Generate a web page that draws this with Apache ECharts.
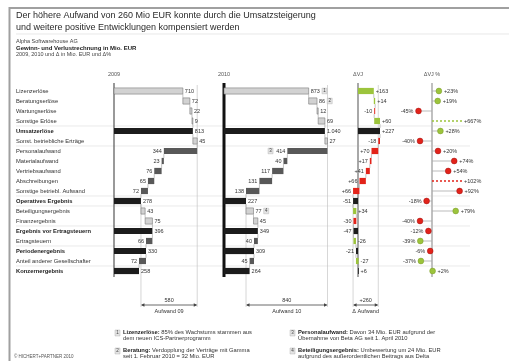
<!DOCTYPE html>
<html><head><meta charset="utf-8">
<script src="https://cdn.jsdelivr.net/npm/echarts@6/dist/echarts.min.js"></script>
<style>html,body{margin:0;padding:0;background:#fff}#c{width:509px;height:361px}</style>
</head><body><div id="c"></div><script>
// ---------- data ----------
const rowLabels = ['Lizenzerlöse','Beratungserlöse','Wartungserlöse','Sonstige Erlöse','Umsatzerlöse',
  'Sonst. betriebliche Erträge','Personalaufwand','Materialaufwand','Vertriebsaufwand','Abschreibungen',
  'Sonstige betriebl. Aufwand','Operatives Ergebnis','Beteiligungsergebnis','Finanzergebnis',
  'Ergebnis vor Ertragsteuern','Ertragsteuern','Periodenergebnis','Anteil anderer Gesellschafter','Konzernergebnis'];
const rowKind = ['+','+','+','+','=','+','-','-','-','-','-','=','+','+','=','-','=','-','='];
const values2009 = [710,72,22,9,813,45,344,23,76,65,72,278,43,75,396,66,330,72,258];
const values2010 = [873,86,12,69,1040,27,414,40,117,131,138,227,77,45,349,40,309,45,264];
const colHeaders = ['2009','2010','ΔVJ','ΔVJ %'];
const expenseCaptions = ['Aufwand 09','Aufwand 10','Δ Aufwand'];
const noteRows = [0,1,6,12];
const noteNums = ['1','2','3','4'];
const titleLines = ['Der höhere Aufwand von 260 Mio EUR konnte durch die Umsatzsteigerung',
  'und weitere positive Entwicklungen kompensiert werden'];
const subLines = ['Alpha Softwarehouse AG','Gewinn- und Verlustrechnung in Mio. EUR','2009, 2010 und Δ in Mio. EUR und Δ%'];
const footnotes = [
  ['1','Lizenzerlöse:',' 85% des Wachstums stammen aus','dem neuen ICS-Partnerprogramm'],
  ['2','Beratung:',' Verdopplung der Verträge mit Gamma','seit 1. Februar 2010 = 32 Mio. EUR'],
  ['3','Personalaufwand:',' Davon 34 Mio. EUR aufgrund der','Übernahme von Beta AG seit 1. April 2010'],
  ['4','Beteiligungsergebnis:',' Umbewertung um 24 Mio. EUR','aufgrund des außerordentlichen Beitrags aus Delta']
];
const copyright = '© HICHERT+PARTNER 2010';

// ---------- derived ----------
const deltas = values2010.map((v,i)=>v-values2009[i]);
const deltaPct = values2010.map((v,i)=>Math.round((v-values2009[i])/values2009[i]*100));
const FONT = 'Liberation Sans, Arial, sans-serif';
const GREEN = '#9cc43c', RED = '#e2231a';

function fmt(v){ return String(Math.abs(v)).replace(/\B(?=(\d{3})+(?!\d))/g,'.'); }
function sfmt(v){ return (v>0?'+':v<0?'-':'±')+fmt(v); }

function waterfall(vals){
  let run=0; const segs=[];
  vals.forEach((v,i)=>{
    let s,e;
    if(rowKind[i]==='='){ s=0; e=v; run=v; }
    else { const sg = rowKind[i]==='+'?1:-1; s=run; e=run+sg*v; run=e; }
    segs.push({i,s,e,conn:run,v});
  });
  return segs;
}
const segPY = waterfall(values2009), segAC = waterfall(values2010), segD = waterfall(deltas);

function absColor(sg){
  if(rowKind[sg.i]==='=') return {fill:'#1c1c1c'};
  if(rowKind[sg.i]==='+') return {fill:'#d2d2d2',stroke:'#777'};
  return {fill:'#585858'};
}
function deltaColor(sg){
  if(rowKind[sg.i]==='=') return {fill:'#1c1c1c'};
  return {fill: sg.e>=sg.s ? GREEN : RED};
}

function wfSeries(g, segs, colorFn, labelFn, notes){
  return {
    type:'custom', xAxisIndex:g, yAxisIndex:g, clip:false, silent:true,
    data: segs.map(s=>[s.s, s.i, s.e]), encode:{x:[0,2], y:1},
    renderItem:(params, api)=>{
      const k=params.dataIndex, sg=segs[k];
      const p0=api.coord([sg.s,sg.i]), p1=api.coord([sg.e,sg.i]);
      const h=api.size([0,1])[1]*0.62;
      const x0=Math.min(p0[0],p1[0]), x1=Math.max(p0[0],p1[0]);
      const c=colorFn(sg);
      const ch=[{type:'rect',shape:{x:x0,y:p0[1]-h/2,width:Math.max(x1-x0,0.8),height:h},
        style:{fill:c.fill,stroke:c.stroke||null,lineWidth:c.stroke?0.6:0}}];
      if(k<segs.length-1){
        const pc=api.coord([sg.conn,sg.i]), pn=api.coord([sg.conn,sg.i+1]);
        ch.push({type:'line',shape:{x1:pc[0],y1:pc[1]+h/2,x2:pn[0],y2:pn[1]-h/2},style:{stroke:'#999',lineWidth:0.6}});
      }
      const right = sg.e>=sg.s;
      const txt = labelFn(sg);
      const lx = right? x1+2 : x0-2;
      ch.push({type:'text',style:{text:txt,x:lx,y:p0[1],align:right?'left':'right',verticalAlign:'middle',
        fontSize:5.5,fill:'#333',fontFamily:FONT}});
      if(notes){
        const ni = noteRows.indexOf(sg.i);
        if(ni>=0){
          const w = txt.length*3.1;
          const nx = right? lx+w+2 : lx-w-8;
          ch.push({type:'rect',shape:{x:nx,y:p0[1]-2.8,width:5,height:5.6},style:{fill:'#e4e4e4',stroke:'#aaa',lineWidth:0.4}});
          ch.push({type:'text',style:{text:noteNums[ni],x:nx+2.5,y:p0[1],align:'center',verticalAlign:'middle',fontSize:4.5,fill:'#444',fontFamily:FONT}});
        }
      }
      return {type:'group',children:ch};
    }
  };
}

const CAP = 100;
const pctSeries = {
  type:'custom', xAxisIndex:3, yAxisIndex:3, clip:false, silent:true,
  data: deltaPct.map((p,i)=>[Math.min(p,CAP), i]), encode:{x:0,y:1},
  renderItem:(params, api)=>{
    const i=params.dataIndex, p=deltaPct[i];
    const good = rowKind[i]==='-' ? p<0 : p>=0;
    const col = good?GREEN:RED;
    const z=api.coord([0,i]), e=api.coord([Math.min(p,CAP),i]);
    const ch=[];
    const capped = p>CAP;
    ch.push({type:'line',shape:{x1:z[0],y1:z[1],x2:e[0],y2:e[1]},style:{stroke:capped?col:'#aaa',lineWidth:capped?1.6:0.8,lineDash:capped?[2,2]:null}});
    if(!capped) ch.push({type:'circle',shape:{cx:e[0],cy:e[1],r:2.9},style:{fill:col,stroke:good?'#7a9a2a':'#a01010',lineWidth:0.5}});
    const right = p>=0;
    ch.push({type:'text',style:{text:(p>0?'+':p<0?'-':'±')+Math.abs(p)+'%',x:right?e[0]+(capped?2:5):e[0]-5,y:e[1],
      align:right?'left':'right',verticalAlign:'middle',fontSize:5.5,fill:'#333',fontFamily:FONT}});
    return {type:'group',children:ch};
  }
};

// ---------- layout ----------
const K = 0.097, KP = 0.3;
const TOP = 86, H = 190;
const grids = [
  {left:114, top:TOP, width:1100*K, height:H},
  {left:224, top:TOP, width:1100*K, height:H},
  {left:358-100*K, top:TOP, width:400*K, height:H},
  {left:432-60*KP, top:TOP, width:170*KP, height:H}
];
const xr = [[0,1100],[0,1100],[-100,300],[-60,110]];

const chart = echarts.init(document.getElementById('c'));
chart.setOption({
  animation:false,
  grid: grids,
  xAxis: xr.map((r,g)=>({gridIndex:g,type:'value',min:r[0],max:r[1],show:false})),
  yAxis: grids.map((gr,g)=>({gridIndex:g,type:'category',data:rowLabels,inverse:true,
    axisLine:{show:false},axisTick:{show:false},splitLine:{show:false},
    axisLabel:{show:g===0,align:'left',margin:98,fontSize:5.8,color:'#333',fontFamily:FONT,
      formatter:(v,idx)=>rowKind[idx]==='='?'{b|'+v+'}':v,
      rich:{b:{fontWeight:'bold',fontSize:5.8,color:'#222',fontFamily:FONT}}}})),
  series:[
    wfSeries(0, segPY, absColor, sg=>fmt(sg.v), false),
    wfSeries(1, segAC, absColor, sg=>fmt(sg.v), true),
    wfSeries(2, segD, deltaColor, sg=>sfmt(sg.v), false),
    pctSeries
  ]
});

// ---------- annotations from scales ----------
const px = (g,v)=>chart.convertToPixel({xAxisIndex:g}, v);
const py = i=>chart.convertToPixel({yAxisIndex:0}, i);
const gr = [];
function txt(x,y,t,o){ gr.push(Object.assign({type:'text',silent:true,style:Object.assign({text:t,x,y,fontSize:6,fill:'#333',fontFamily:FONT,verticalAlign:'middle'},o||{})})); }
function line(x1,y1,x2,y2,stroke,w,dash){ gr.push({type:'line',silent:true,shape:{x1,y1,x2,y2},style:{stroke,lineWidth:w,lineDash:dash||null}}); }

// frame
gr.push({type:'rect',silent:true,shape:{x:9.5,y:8,width:560,height:400},style:{fill:null,stroke:'#a0a0a0',lineWidth:2}});
// title & subtitle
txt(16,16,titleLines[0],{fontSize:9,fill:'#2a2a2a'});
txt(16,27.5,titleLines[1],{fontSize:9,fill:'#2a2a2a'});
line(16,34,509,34,'#d8d8d8',0.6);
txt(16,41.5,subLines[0],{fontSize:5.5,fill:'#444'});
txt(16,48,subLines[1],{fontSize:6,fill:'#222',fontWeight:'bold'});
txt(16,54.5,subLines[2],{fontSize:5.5,fill:'#444'});

// row separators
const sepAfter = [3,5,10,11,13,15,17];
sepAfter.forEach(i=>{ const y=(py(i)+py(i+1))/2; line(16,y,470,y,'#dcdcdc',0.6); });

// axis lines & headers
const axisStyle = [['#555',1.2],['#111',3],['#a8a8a8',2],['#c0c0c0',2]];
const yTop = py(0)-8, yBot = py(rowLabels.length-1)+6;
for(let g=0; g<4; g++){
  const x = px(g,0);
  line(x,yTop,x,yBot,axisStyle[g][0],axisStyle[g][1]);
  txt(x,74,colHeaders[g],{fontSize:5.5,fill:'#555',align:'center'});
}

// expense dimension arrows
const expStart = [segPY[6].s, segAC[6].s, segD[6].s];
const expEnd = [segPY[10].e, segAC[10].e, segD[10].e];
const expTotals = [0,1].map(c=>[values2009,values2010][c].slice(6,11).reduce((a,b)=>a+b,0));
const expLabels = [fmt(expTotals[0]), fmt(expTotals[1]), sfmt(expTotals[1]-expTotals[0])];
const AY = 305;
for(let g=0; g<3; g++){
  const xa = px(g,expEnd[g]), xb = px(g,expStart[g]);
  line(xb,yTop+2,xb,AY+2,'#c4c4c4',0.7);
  line(xa,py(11)+3,xa,AY+2,'#c4c4c4',0.7);
  const l=Math.min(xa,xb), r=Math.max(xa,xb);
  line(l+1,AY,r-1,AY,'#444',0.8);
  gr.push({type:'polygon',silent:true,shape:{points:[[l,AY],[l+3.5,AY-1.8],[l+3.5,AY+1.8]]},style:{fill:'#444'}});
  gr.push({type:'polygon',silent:true,shape:{points:[[r,AY],[r-3.5,AY-1.8],[r-3.5,AY+1.8]]},style:{fill:'#444'}});
  txt((l+r)/2,AY-5,expLabels[g],{fontSize:5.5,align:'center',fill:'#333'});
  txt((l+r)/2,AY+6.5,expenseCaptions[g],{fontSize:5.5,align:'center',fill:'#333'});
}

// footnotes
const fnPos = [[115,333],[115,351],[290,333],[290,351]];
footnotes.forEach((f,k)=>{
  const [x,y]=fnPos[k];
  gr.push({type:'rect',silent:true,shape:{x:x,y:y-3,width:5,height:6},style:{fill:'#e4e4e4',stroke:'#aaa',lineWidth:0.4}});
  txt(x+2.5,y,f[0],{fontSize:4.5,align:'center',fill:'#444'});
  gr.push({type:'text',silent:true,style:{text:'{b|'+f[1]+'}'+f[2]+'\n'+f[3],x:x+8,y:y-3.5,fontSize:5.8,fill:'#333',
    fontFamily:FONT,lineHeight:6.2,rich:{b:{fontWeight:'bold',fontSize:5.8,fill:'#222',fontFamily:FONT}}}});
});
txt(14,357,copyright,{fontSize:4.5,fill:'#555'});

chart.setOption({graphic:gr});
</script></body></html>
